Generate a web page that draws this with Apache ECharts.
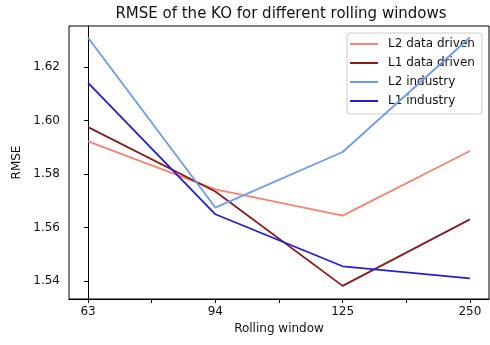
<!DOCTYPE html>
<html>
<head>
<meta charset="utf-8">
<script src="https://cdn.jsdelivr.net/npm/echarts@6/dist/echarts.min.js"></script>
<style>html,body{margin:0;padding:0;background:#fff;}#c{width:490px;height:345px;}</style>
</head>
<body>
<div id="c"></div>
<script>
const categories = ['63', '94', '125', '250'];
const seriesNames = ['L2 data driven', 'L1 data driven', 'L2 industry', 'L1 industry'];
const l2DataDriven = [1.5922, 1.5743, 1.5645, 1.5886];
const l1DataDriven = [1.5975, 1.5735, 1.5383, 1.5631];
const l2Industry = [1.6308, 1.5675, 1.5882, 1.6309];
const l1Industry = [1.6140, 1.5650, 1.5456, 1.5411];
const yTicks = [1.54, 1.56, 1.58, 1.60, 1.62];
const xTicks = [0, 0.5, 1, 1.5, 2, 2.5, 3];
const colors = ['#fa8072', '#8b1a1a', '#6b9bef', '#1f1fd6'];
const values = [l2DataDriven, l1DataDriven, l2Industry, l1Industry];

const FONT = 'DejaVu Sans';
const chart = echarts.init(document.getElementById('c'), null, {renderer: 'canvas'});
chart.setOption({
  animation: false,
  backgroundColor: '#fff',
  title: {
    text: 'RMSE of the KO for different rolling windows',
    left: 276, top: 2, textAlign: 'center',
    textStyle: {fontFamily: FONT, fontSize: 15, fontWeight: 'normal', color: '#111'}
  },
  grid: {left: 69, top: 26, right: 1, bottom: 46, show: true, borderColor: '#000', borderWidth: 1, containLabel: false},
  legend: {
    orient: 'vertical', left: 347, top: 33,
    padding: [4, 7, 6, 3], itemGap: 5, itemWidth: 28, itemHeight: 2,
    icon: 'rect',
    borderColor: '#cccccc', borderWidth: 1, borderRadius: 3,
    backgroundColor: 'rgba(255,255,255,0.8)',
    data: seriesNames,
    textStyle: {fontFamily: FONT, fontSize: 12, color: '#111', padding: [0, 0, 0, 5], lineHeight: 14}
  },
  xAxis: {
    type: 'value', min: -0.15, max: 3.15,
    name: 'Rolling window', nameLocation: 'middle', nameGap: 24,
    nameTextStyle: {fontFamily: FONT, fontSize: 12, color: '#111'},
    axisLine: {show: true, lineStyle: {color: '#000', width: 1}},
    axisTick: {show: true, length: 4, lineStyle: {color: '#000'}, customValues: xTicks},
    splitLine: {show: false},
    axisLabel: {
      customValues: categories.map((c, i) => i),
      margin: 7, fontFamily: FONT, fontSize: 12, color: '#111',
      formatter: v => categories[Math.round(v)]
    }
  },
  yAxis: {
    type: 'value', min: 1.5334, max: 1.6352,
    name: 'RMSE', nameLocation: 'middle', nameGap: 44,
    nameTextStyle: {fontFamily: FONT, fontSize: 12, color: '#111'},
    axisLine: {show: true, lineStyle: {color: '#000', width: 1}},
    axisTick: {show: true, length: 4, lineStyle: {color: '#000'}, customValues: yTicks},
    splitLine: {show: false},
    axisLabel: {
      customValues: yTicks,
      margin: 9, fontFamily: FONT, fontSize: 12, color: '#111',
      formatter: v => v.toFixed(2)
    }
  },
  series: seriesNames.map((n, k) => ({
    name: n, type: 'line', symbol: 'none', showSymbol: false,
    color: colors[k],
    itemStyle: {color: colors[k]},
    lineStyle: {color: colors[k], width: 1.8},
    data: categories.map((c, i) => [i, values[k][i]]),
    z: 2 + k
  }))
});
</script>
</body>
</html>
